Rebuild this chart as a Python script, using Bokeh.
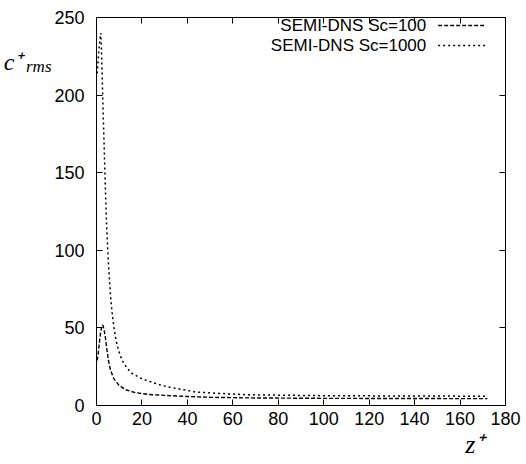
from bokeh.plotting import figure
from bokeh.models import Range1d, LinearAxis, Label, Arrow, FixedTicker
from bokeh.embed import file_html
from bokeh.resources import INLINE

# ---- data ----
z_sc100 = [0.3, 0.8, 1.3, 1.8, 2.3, 2.8, 3.3, 3.8, 4.4, 5.2, 6.2, 7.7, 9.9, 12.8,
           17.0, 23.0, 31.7, 40.0, 50.0, 66.0, 100.0, 140.0, 172.0]
c_sc100 = [29, 34, 41, 47, 51, 52, 49, 45, 38, 29.5, 22.5, 17.2, 13.0, 10.2,
           8.3, 7.1, 6.4, 5.8, 5.3, 4.9, 4.6, 4.5, 4.4]

z_sc1000 = [0.3, 0.7, 1.1, 1.5, 1.9, 2.2, 2.5, 2.8, 3.1, 3.4, 3.7, 4.0, 4.3, 4.6,
            5.0, 5.4, 5.8, 6.2, 6.6, 7.0, 7.7, 8.6, 9.6, 11.3, 13.5, 15.7, 20.0,
            24.4, 28.8, 32.3, 44.0, 66.0, 102.0, 140.0, 172.0]
c_sc1000 = [214, 222, 230, 236, 240, 228, 212, 195, 180, 166, 150, 136, 123, 111,
            99, 88, 79, 70, 64, 58, 50, 42, 36, 29, 24, 20.6, 17.2,
            15.0, 12.9, 11.8, 8.6, 6.9, 6.3, 6.1, 6.0]

x_ticks = [0, 20, 40, 60, 80, 100, 120, 140, 160, 180]
y_ticks = [0, 50, 100, 150, 200, 250]
labels = ["SEMI-DNS Sc=100", "SEMI-DNS Sc=1000"]
y_title = ("c\u207a", "rms")
x_title = "z\u207a"

# ---- layout helpers (pixel -> data, frame 92..505 x 17..405) ----
W, H = 526, 464
X0, X1, Y0, Y1 = 92, 505, 405, 17
XMAX, YMAX = 180, 250
def dx(px):
    return (px - X0) * XMAX / (X1 - X0)
def dy(py):
    return (Y0 - py) * YMAX / (Y0 - Y1)

p = figure(width=W, height=H, output_backend="svg", toolbar_location=None,
           x_range=Range1d(0, XMAX), y_range=Range1d(0, YMAX),
           min_border_left=X0, min_border_right=W - X1,
           min_border_top=Y1, min_border_bottom=H - Y0)
p.background_fill_color = "white"
p.border_fill_color = "white"
p.outline_line_color = "black"
p.outline_line_width = 1
p.xgrid.visible = False
p.ygrid.visible = False

FONT = "Liberation Sans"
SERIF = "Liberation Serif"
for ax in (p.xaxis[0], p.yaxis[0]):
    ax.major_tick_in = 6
    ax.major_tick_out = 0
    ax.minor_tick_in = 0
    ax.minor_tick_out = 0
    ax.axis_line_color = "black"
    ax.major_tick_line_color = "black"
    ax.major_label_text_font = FONT
    ax.major_label_text_font_size = "18px"
    ax.major_label_text_color = "black"
p.xaxis[0].ticker = FixedTicker(ticks=x_ticks)
p.yaxis[0].ticker = FixedTicker(ticks=y_ticks)
p.xaxis[0].major_label_standoff = 6
p.yaxis[0].major_label_standoff = 12

# mirror axes (ticks only)
top = LinearAxis(ticker=FixedTicker(ticks=x_ticks), major_tick_in=6, major_tick_out=0,
                 minor_tick_in=0, minor_tick_out=0,
                 major_label_overrides={t: "" for t in x_ticks},
                 axis_line_color="black")
right = LinearAxis(ticker=FixedTicker(ticks=y_ticks), major_tick_in=6, major_tick_out=0,
                   minor_tick_in=0, minor_tick_out=0,
                   major_label_overrides={t: "" for t in y_ticks},
                   axis_line_color="black")
p.add_layout(top, "above")
p.add_layout(right, "right")

# axis titles carried by tick-less extra axes (placed outside the frame)
def title_axis(pos_value, text, size, standoff):
    return LinearAxis(ticker=FixedTicker(ticks=[pos_value]), major_tick_in=0, major_tick_out=0,
                      minor_tick_in=0, minor_tick_out=0, axis_line_color=None,
                      major_label_overrides={pos_value: text},
                      major_label_text_font=SERIF, major_label_text_font_style="italic",
                      major_label_text_font_size=size, major_label_text_color="black",
                      major_label_standoff=standoff)

p.add_layout(title_axis(round(dy(66), 3), y_title[1], "17px", 0), "left")
p.add_layout(title_axis(round(dy(61), 3), y_title[0], "24px", 0), "left")
p.add_layout(title_axis(round(dx(474), 3), x_title, "26px", 2), "below")

DASH = "4 2"
DOT = "2 3"
p.line(z_sc100, c_sc100, line_color="black", line_width=1.4, line_dash=DASH)
p.line(z_sc1000, c_sc1000, line_color="black", line_width=1.5, line_dash=DOT)

# legend (gnuplot style: text right-aligned, sample to the right)
for i, (lab, dash, lw) in enumerate(zip(labels, [DASH, DOT], [1.4, 1.5])):
    py = 25 + 20 * i
    p.add_layout(Label(x=dx(425), y=dy(py), text=lab, text_align="right",
                       text_baseline="middle", text_font=FONT, text_font_size="17px",
                       text_color="black"))
    p.add_layout(Arrow(x_start=dx(437), y_start=dy(py), x_end=dx(485), y_end=dy(py),
                       end=None, line_color="black", line_width=lw, line_dash=dash))

open("out.html", "w").write(file_html(p, INLINE))
